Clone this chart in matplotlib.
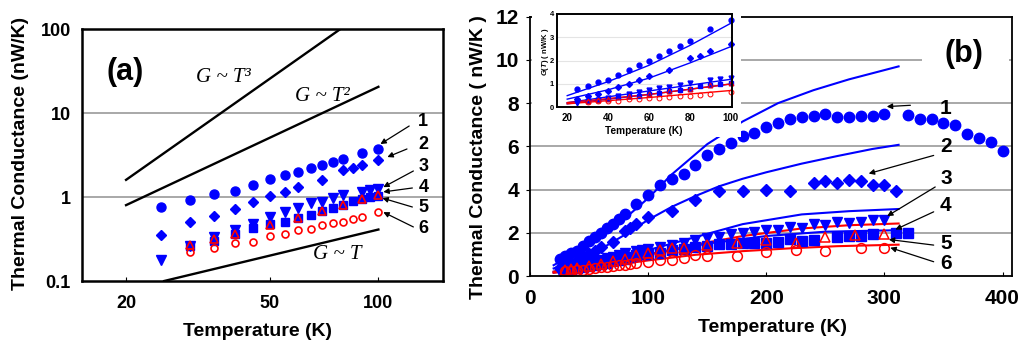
import numpy as np
import matplotlib
matplotlib.use('Agg')
import matplotlib.pyplot as plt
from matplotlib.patches import Rectangle

# ---- data (T in K, G in nW/K) ----
# low temperature points (panel a and inset)
T1 = [25, 30, 35, 40, 45, 50, 55, 60, 65, 70, 75, 80, 90, 100]
G1 = [0.77, 0.92, 1.08, 1.18, 1.38, 1.62, 1.82, 1.98, 2.2, 2.4, 2.62, 2.85, 3.35, 3.75]
T2 = [25, 30, 35, 40, 45, 50, 55, 60, 70, 80, 85, 90, 100]
G2 = [0.35, 0.5, 0.59, 0.71, 0.88, 1.02, 1.16, 1.33, 1.59, 2.1, 2.2, 2.4, 2.72]
T3 = [25, 30, 35, 40, 45, 50, 55, 60, 65, 70, 75, 80, 90, 95, 100]
G3 = [0.18, 0.26, 0.33, 0.40, 0.48, 0.58, 0.67, 0.74, 0.84, 0.88, 0.97, 1.05, 1.15, 1.2, 1.24]
T4 = [30, 35, 40, 45, 50, 55, 60, 65, 70, 75, 80, 85, 90, 95, 100]
G4 = [0.26, 0.30, 0.36, 0.43, 0.48, 0.5, 0.57, 0.61, 0.69, 0.73, 0.8, 0.9, 0.95, 1.0, 1.04]
T5 = [30, 35, 40, 50, 60, 70, 80, 90, 100]
G5 = [0.27, 0.32, 0.36, 0.47, 0.57, 0.68, 0.8, 0.95, 1.05]
T6 = [30, 35, 40, 45, 50, 55, 60, 65, 70, 75, 80, 85, 90, 100]
G6 = [0.22, 0.25, 0.28, 0.29, 0.34, 0.36, 0.41, 0.42, 0.46, 0.49, 0.5, 0.54, 0.58, 0.66]

# high temperature points (panel b)
T1_hi = [110, 120, 130, 140, 150, 160, 170, 180, 190, 200, 210, 220, 230, 240, 250, 260, 270, 280,
         290, 300, 320, 330, 340, 350, 360, 370, 380, 390, 400]
G1_hi = [4.2, 4.48, 4.7, 5.15, 5.58, 5.89, 6.17, 6.5, 6.63, 6.88, 7.06, 7.28, 7.37, 7.4, 7.52, 7.37,
         7.37, 7.4, 7.4, 7.49, 7.43, 7.25, 7.25, 7.1, 7.0, 6.58, 6.38, 6.2, 5.8]
T2_hi = [120, 140, 160, 180, 200, 220, 240, 250, 260, 270, 280, 290, 300, 310]
G2_hi = [3.02, 3.51, 3.94, 3.94, 3.97, 3.94, 4.32, 4.4, 4.32, 4.46, 4.38, 4.22, 4.2, 3.94]
T3_hi = [110, 120, 130, 140, 150, 160, 170, 180, 190, 200, 210, 220, 230, 240, 250, 260, 270, 280, 290, 300]
G3_hi = [1.35, 1.45, 1.51, 1.66, 1.74, 1.81, 1.94, 1.97, 2.04, 2.12, 2.15, 2.28, 2.2, 2.4, 2.35, 2.5,
         2.46, 2.5, 2.58, 2.58]
T4_hi = [110, 120, 130, 140, 150, 160, 170, 180, 190, 200, 210, 220, 230, 240, 260, 270, 280, 290, 310, 320]
G4_hi = [1.05, 1.2, 1.23, 1.35, 1.4, 1.48, 1.5, 1.51, 1.51, 1.54, 1.58, 1.71, 1.63, 1.66, 1.81, 1.85,
         1.85, 1.94, 2.0, 2.0]
T5_hi = [110, 120, 130, 150, 175, 200, 225, 250, 275, 300]
G5_hi = [1.2, 1.3, 1.3, 1.45, 1.54, 1.66, 1.55, 1.81, 1.89, 1.94]
T6_hi = [110, 120, 130, 140, 150, 175, 200, 225, 250, 280, 300]
G6_hi = [0.75, 0.72, 0.82, 0.97, 0.94, 0.94, 1.12, 1.22, 1.17, 1.28, 1.28]

# model curves (panel b and inset)
F1_T = [20, 40, 60, 80, 100, 120, 150, 180, 210, 240, 270, 312]
F1_G = [0.5, 1.1, 1.8, 2.65, 3.6, 4.7, 6.1, 7.15, 8.0, 8.6, 9.1, 9.7]
F2_T = [20, 40, 60, 80, 100, 120, 140, 160, 180, 200, 230, 260, 290, 312]
F2_G = [0.35, 0.75, 1.25, 1.9, 2.6, 3.2, 3.7, 4.15, 4.5, 4.8, 5.2, 5.55, 5.88, 6.07]
F3_T = [20, 40, 60, 80, 100, 140, 180, 230, 270, 312]
F3_G = [0.2, 0.45, 0.7, 0.95, 1.2, 1.8, 2.4, 2.85, 3.0, 3.1]
F4_T = [20, 60, 100, 150, 200, 250, 312]
F4_G = [0.15, 0.55, 1.0, 1.5, 1.85, 2.05, 2.12]
F5_T = [20, 60, 100, 140, 180, 230, 270, 312]
F5_G = [0.2, 0.55, 1.0, 1.45, 1.85, 2.2, 2.35, 2.43]
F6_T = [20, 60, 100, 140, 180, 220, 260, 312]
F6_G = [0.15, 0.42, 0.72, 0.98, 1.15, 1.28, 1.38, 1.45]

# power-law guide lines in panel a
GT3_T, GT3_G = [20, 78.5], [1.6, 100]
GT2_T, GT2_G = [20, 100], [0.8, 20.5]
GT1_T, GT1_G = [25.5, 100], [0.1, 0.41]

labels = ['1', '2', '3', '4', '5', '6']

plt.rcParams['font.family'] = ['Liberation Sans', 'DejaVu Sans']
plt.rcParams['font.weight'] = 'bold'
plt.rcParams['mathtext.fontset'] = 'custom'
plt.rcParams['mathtext.it'] = 'Liberation Sans:italic:bold'
plt.rcParams['mathtext.rm'] = 'Liberation Sans:bold'

W, H = 1021, 348
fig = plt.figure(figsize=(W / 100, H / 100), dpi=100)


def box(l, r, t, b):
    return [l / W, 1 - b / H, (r - l) / W, (b - t) / H]


blue, red = '#0000ff', '#ff0000'
arrow = dict(arrowstyle='-|>', color='k', lw=0.9, mutation_scale=8, shrinkA=0, shrinkB=0)
serif = dict(family=['Liberation Serif', 'DejaVu Serif'], style='italic', weight='normal', fontsize=15,
             ha='center', va='center')

# ================= panel (a) =================
ax = fig.add_axes(box(82, 443, 29, 281))
ax.set_xscale('log')
ax.set_yscale('log')
ax.set_xlim(15.1, 151)
ax.set_ylim(0.1, 100)
for yv in [1, 10]:
    ax.axhline(yv, color='#999999', lw=1.2, zorder=1)

ax.plot(GT3_T, GT3_G, color='k', lw=1.7)
ax.plot(GT2_T, GT2_G, color='k', lw=1.7)
ax.plot(GT1_T, GT1_G, color='k', lw=1.7)

ax.plot(T1, G1, 'o', color=blue, ms=6.5, ls='none')
ax.plot(T2, G2, 'D', color=blue, ms=5.5, ls='none')
ax.plot(T3, G3, 'v', color=blue, ms=7, ls='none')
ax.plot(T4, G4, 's', color=blue, ms=6, ls='none')
ax.plot(T5, G5, '^', mfc='none', mec=red, mew=1.2, ms=6, ls='none')
ax.plot(T6, G6, 'o', mfc='none', mec=red, mew=1.2, ms=5, ls='none')

ax.set_xticks([20, 50, 100])
ax.set_xticklabels(['20', '50', '100'])
ax.set_yticks([0.1, 1, 10, 100])
ax.set_yticklabels(['0.1', '1', '10', '100'])
ax.minorticks_off()
ax.tick_params(axis='x', labelsize=13, pad=10, direction='in', length=3)
ax.tick_params(axis='y', labelsize=13, pad=8, direction='in', length=0)
for s in ax.spines.values():
    s.set_linewidth(1.8)

ax.text(37.2, 26.8, 'G ~ T\u00b3', **serif)
ax.text(69.9, 15.9, 'G ~ T\u00b2', **serif)
ax.text(76.9, 0.204, 'G ~ T', **serif)
ax.text(0.12, 0.83, '(a)', transform=ax.transAxes, fontsize=22, ha='center', va='center')

lab_y = [8.03, 4.16, 2.28, 1.28, 0.76, 0.416]
arr_a = [((121.7, 7.0), (101.3, 4.27)), ((120.0, 3.73), (105.9, 2.99)), ((125, 2.04), (103.2, 1.31)),
         ((124.2, 1.28), (103.2, 1.15)), ((124.2, 0.76), (102.6, 0.97)), ((125, 0.44), (103.2, 0.66))]
for lab, ly, (p0, p1) in zip(labels, lab_y, arr_a):
    ax.text(129, ly, lab, fontsize=13, ha='left', va='center')
    ax.annotate('', xy=p1, xytext=p0, arrowprops=arrow)

fig.text(20.7 / W, 1 - 153.5 / H, 'Thermal Conductance (nW/K)', rotation=90, ha='center', va='center',
         fontsize=14)
fig.text(257.5 / W, 1 - 332 / H, 'Temperature (K)', ha='center', va='center', fontsize=14)

# ================= panel (b) =================
bx = fig.add_axes(box(530, 1012, 16.7, 276))
bx.set_zorder(1)
bx.set_xlim(0, 408)
bx.set_ylim(0, 12)
for yv in [2, 4, 6, 8, 10]:
    bx.axhline(yv, color='#999999', lw=1.2, zorder=1)
bx.add_patch(Rectangle((0.813, 0.70), 0.181, 0.25, transform=bx.transAxes, facecolor='white',
                       edgecolor='none', zorder=1.5))
bx.text(0.90, 0.855, '(b)', transform=bx.transAxes, fontsize=22, ha='center', va='center', zorder=3)

bx.plot(F1_T, F1_G, color=blue, lw=1.5)
bx.plot(F2_T, F2_G, color=blue, lw=1.5)
bx.plot(F3_T, F3_G, color=blue, lw=1.5)
bx.plot(F4_T, F4_G, color=blue, lw=1.5)
bx.plot(F5_T, F5_G, color=red, lw=1.5)
bx.plot(F6_T, F6_G, color=red, lw=1.5)

bx.plot(T1 + T1_hi, G1 + G1_hi, 'o', color=blue, ms=7.5, ls='none')
bx.plot(T2 + T2_hi, G2 + G2_hi, 'D', color=blue, ms=6.5, ls='none')
bx.plot(T3 + T3_hi, G3 + G3_hi, 'v', color=blue, ms=7.5, ls='none')
bx.plot(T4 + T4_hi, G4 + G4_hi, 's', color=blue, ms=6.5, ls='none')
bx.plot(T5 + T5_hi, G5 + G5_hi, '^', mfc='none', mec=red, mew=1.1, ms=7, ls='none')
bx.plot(T6 + T6_hi, G6 + G6_hi, 'o', mfc='none', mec=red, mew=1.1, ms=7, ls='none')

bx.set_xticks([0, 100, 200, 300, 400])
bx.set_yticks([0, 2, 4, 6, 8, 10, 12])
bx.tick_params(axis='x', labelsize=15, pad=9, direction='in', length=3)
bx.tick_params(axis='y', labelsize=15, pad=5, direction='out', length=3)
for s in bx.spines.values():
    s.set_linewidth(1.3)

lab_yb = [7.75, 5.97, 4.52, 3.28, 1.52, 0.6]
arr_b = [((322, 7.9), (302, 7.84)), ((341.7, 5.58), (286.7, 4.74)), ((343, 4.12), (302.3, 2.77)),
         ((341.7, 2.97), (309.3, 2.15)), ((341.7, 1.43), (303.7, 1.69)), ((341.7, 0.66), (305, 1.31))]
for lab, ly, (p0, p1) in zip(labels, lab_yb, arr_b):
    bx.text(352, ly, lab, fontsize=15, ha='center', va='center')
    bx.annotate('', xy=p1, xytext=p0, arrowprops=arrow)

fig.text(478 / W, 1 - 157 / H, 'Thermal Conductance ( nW/K )', rotation=90, ha='center', va='center',
         fontsize=14)
fig.text(772 / W, 1 - 328 / H, 'Temperature (K)', ha='center', va='center', fontsize=14)

# white area behind the inset
fig.add_artist(Rectangle((532 / W, 1 - 137 / H), (741 - 532) / W, 137 / H, transform=fig.transFigure,
                         facecolor='white', edgecolor='none', zorder=1.5))

# ================= inset =================
ix = fig.add_axes(box(557, 731.7, 14, 107.3))
ix.set_zorder(2)
ix.set_xlim(15, 100.5)
ix.set_ylim(0, 4)
for yv in [1, 2, 3]:
    ix.axhline(yv, color='#e4e4e4', lw=0.8, zorder=0)
for ft, fg, c in [(F1_T, F1_G, blue), (F2_T, F2_G, blue), (F3_T, F3_G, blue), (F4_T, F4_G, blue),
                  (F5_T, F5_G, red), (F6_T, F6_G, red)]:
    ix.plot(ft, fg, color=c, lw=1.0)
ix.plot(T1, G1, 'o', color=blue, ms=3.5, ls='none', clip_on=False)
ix.plot(T2, G2, 'D', color=blue, ms=3, ls='none', clip_on=False)
ix.plot(T3, G3, 'v', color=blue, ms=3.5, ls='none', clip_on=False)
ix.plot(T4, G4, 's', color=blue, ms=3, ls='none', clip_on=False)
ix.plot(T5, G5, '^', mfc='none', mec=red, mew=0.7, ms=3.5, ls='none', clip_on=False)
ix.plot(T6, G6, 'o', mfc='none', mec=red, mew=0.7, ms=3.5, ls='none', clip_on=False)
ix.set_xticks([20, 40, 60, 80, 100])
ix.set_yticks([0, 1, 2, 3, 4])
ix.tick_params(axis='x', labelsize=7, pad=4, length=0)
ix.tick_params(axis='y', labelsize=5.5, pad=2, length=0)
for s in ix.spines.values():
    s.set_linewidth(1.4)
fig.text(644 / W, 1 - 130.7 / H, 'Temperature (K)', ha='center', va='center', fontsize=7.3)
fig.text(545 / W, 1 - 52 / H, r'$G$($T$) ( nW/K )', rotation=90, ha='center', va='center', fontsize=5.5)

fig.savefig('out.png', dpi=100)
